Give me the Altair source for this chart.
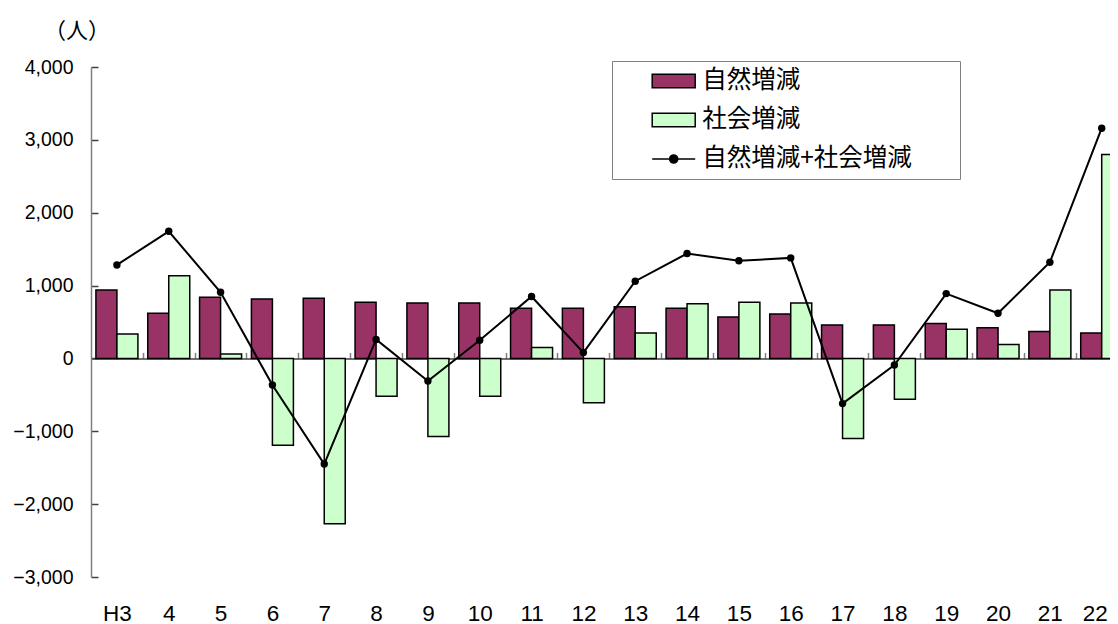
import altair as alt
import pandas as pd

CATEGORIES = ["H3", "4", "5", "6", "7", "8", "9", "10", "11", "12",
              "13", "14", "15", "16", "17", "18", "19", "20", "21", "22"]
NATURAL = [940, 620, 840, 815, 825, 770, 760, 760, 690, 690,
           710, 690, 570, 610, 460, 460, 480, 420, 370, 350]
SOCIAL = [336, 1136, 62, -1190, -2270, -520, -1070, -520, 150, -610,
          350, 750, 770, 760, -1100, -560, 400, 190, 940, 2800]
TOTAL = [1283, 1745, 908, -365, -1450, 260, -310, 250, 850, 80,
         1060, 1440, 1340, 1380, -620, -90, 890, 620, 1320, 3160]
SERIES = ["自然増減", "社会増減", "自然増減+社会増減"]
COLORS = ["#993366", "#CCFFCC", "#000000"]
OUTLINES = ["#000000", "#000000", "#000000"]
SHAPES = ["M-1,-0.31H1V0.31H-1Z", "M-1,-0.31H1V0.31H-1Z",
          "M-1,0H1M-0.19,0A0.19,0.19,0,1,0,0.19,0A0.19,0.19,0,1,0,-0.19,0Z"]
Y_TICKS = [-3000, -2000, -1000, 0, 1000, 2000, 3000, 4000]

rows = []
for i, c in enumerate(CATEGORIES):
    for s, vals in zip(SERIES, [NATURAL, SOCIAL, TOTAL]):
        rows.append({"idx": i, "cat": c, "series": s, "value": vals[i]})
df = pd.DataFrame(rows)

W, H = 1019, 510
JP = "Noto Sans CJK JP"
NUM = "Liberation Sans"
LAST = len(CATEGORIES) - 1

xscale = alt.Scale(domain=[-0.5, 19.16], nice=False, zero=False, padding=0)
yscale = alt.Scale(domain=[Y_TICKS[0], Y_TICKS[-1]], nice=False, zero=False, padding=0)
fill_scale = alt.Scale(domain=SERIES, range=COLORS)
stroke_scale = alt.Scale(domain=SERIES, range=OUTLINES)
shape_scale = alt.Scale(domain=SERIES, range=SHAPES)

label_expr = "[" + ",".join(f"'{c}'" for c in CATEGORIES) + "][datum.value]"
zero_offset = -H * Y_TICKS[-1] / (Y_TICKS[-1] - Y_TICKS[0])

x_bottom = alt.X("idx:Q", scale=xscale, title=None, axis=alt.Axis(
    orient="bottom", values=list(range(len(CATEGORIES))), labelExpr=label_expr,
    domain=False, ticks=False, tickSize=0, grid=False, labelPadding=43,
    labelBaseline="alphabetic", labelFontSize=22.5, labelFont=NUM, labelColor="black",
    labelOffset={"condition": {"test": f"datum.value == {LAST}", "value": -7}, "value": 0},
    labelFlush=False, labelOverlap=False, labelBound=False))
x_zero = alt.X("idx:Q", scale=xscale, title=None, axis=alt.Axis(
    orient="top", offset=zero_offset, values=[i + 0.5 for i in range(len(CATEGORIES) - 1)],
    labels=False, domain=True, domainColor="#404040", domainWidth=1.5,
    ticks=True, tickSize=6, tickColor="#808080", tickWidth=1.5, grid=False))
x_none = alt.X("idx:Q", scale=xscale, axis=None)

y_left = alt.Y("value:Q", scale=yscale, axis=alt.Axis(
    orient="left", values=Y_TICKS, format=",.0f", domain=False, ticks=False, tickSize=0,
    labelPadding=18, labelFontSize=19.5, labelFont=NUM, labelColor="black", grid=False,
    labelFlush=False, labelOverlap=False, labelBound=False,
    title="（人）", titleAngle=0, titleX=-14.5, titleY=-37, titleAlign="center",
    titleBaseline="middle", titleFontSize=22, titleFont=JP, titleFontWeight="normal",
    titleColor="black"))
y_right = alt.Y("value:Q", scale=yscale, axis=alt.Axis(
    orient="right", offset=-W, values=Y_TICKS, labels=False, domain=True,
    domainColor="#808080", domainWidth=1.5, ticks=True, tickSize=7,
    tickColor="#404040", tickWidth=1.5, grid=False, title=None))
y_none = alt.Y("value:Q", scale=yscale, axis=None)

legend = alt.Legend(
    orient="none", legendX=521, legendY=-6, title="\u3000", titleOrient="right",
    titleFontSize=30, titlePadding=46, titleFont=JP,
    fillColor="white", strokeColor="#808080", padding=2, rowPadding=3,
    clipHeight=36, symbolSize=1849, symbolOffset=37.2, labelOffset=6,
    labelFontSize=24.5, labelFont=JP, labelColor="black", labelLimit=500,
    symbolStrokeColor="black", symbolStrokeWidth=1.5, direction="vertical")

base = alt.Chart(df)

nat = base.transform_filter(alt.datum.series == SERIES[0]).mark_bar(
    size=21, xOffset=-10.5, stroke="black", strokeWidth=1.5, opacity=1, clip=True,
    fill=COLORS[0]
).encode(x=x_bottom, y=y_left, y2=alt.Y2(datum=0))

soc = base.transform_filter(alt.datum.series == SERIES[1]).mark_bar(
    size=21, xOffset=10.5, stroke="black", strokeWidth=1.5, opacity=1, clip=True,
    fill=COLORS[1]
).encode(x=x_zero, y=y_right, y2=alt.Y2(datum=0))

line = base.transform_filter(alt.datum.series == SERIES[2]).mark_line(
    color=COLORS[2], strokeWidth=2, clip=True
).encode(x=x_none, y=y_none)

pts = base.transform_filter(alt.datum.series == SERIES[2]).mark_point(
    filled=True, color=COLORS[2], size=55, opacity=1, clip=True
).encode(x=x_none, y=y_none)

leg = base.transform_filter("false").mark_point(
    filled=True, strokeWidth=1.5, opacity=1
).encode(x=x_none, y=y_none,
         fill=alt.Fill("series:N", scale=fill_scale, legend=legend),
         stroke=alt.Stroke("series:N", scale=stroke_scale, legend=legend),
         shape=alt.Shape("series:N", scale=shape_scale, legend=legend))

chart = alt.layer(nat, soc, line, pts, leg).resolve_axis(
    x="independent", y="independent"
).properties(
    width=W, height=H,
    padding={"left": 83, "top": 59, "right": 0, "bottom": 56},
    autosize=alt.AutoSizeParams(type="none"),
    view=alt.ViewBackground(stroke="transparent"),
).configure_view(stroke="transparent").configure(font=JP)

chart.save("out.html", embed_options={"renderer": "svg", "actions": False})
